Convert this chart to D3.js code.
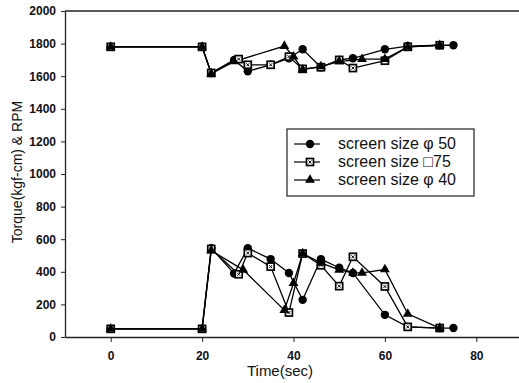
<!DOCTYPE html>
<html>
<head>
<meta charset="utf-8">
<script src="https://cdn.jsdelivr.net/npm/d3@7"></script>
<style>
  body { margin: 0; background: #fff; }
  svg { display: block; font-family: Arial, "Liberation Sans", sans-serif; }
  .c-axis text { font-size: 12px; font-weight: bold; fill: #111; }
  .c-axis path, .c-axis line { stroke: #222; }
</style>
</head>
<body>
<div id="chart"></div>
<script>
// time (sec) per series, torque/rpm values
const seriesNames = ['screen size \u03c6 50', 'screen size \u25a175', 'screen size \u03c6 40'];

const phi50TimeTop = [0, 20, 22, 27, 30, 35, 39, 42, 46, 50, 53, 60, 65, 72, 75];
const phi50RpmTop = [1780, 1780, 1620, 1700, 1630, 1670, 1710, 1765, 1655, 1700, 1710, 1765, 1785, 1790, 1790];
const sq75TimeTop = [0, 20, 22, 28, 30, 35, 39, 42, 46, 50, 53, 60, 65, 72];
const sq75RpmTop = [1780, 1780, 1620, 1705, 1670, 1670, 1720, 1645, 1655, 1700, 1650, 1695, 1780, 1790];
const phi40TimeTop = [0, 20, 22, 27, 38, 40, 42, 46, 50, 55, 60, 65, 72];
const phi40RpmTop = [1780, 1780, 1615, 1690, 1785, 1720, 1640, 1660, 1690, 1705, 1705, 1780, 1790];

const phi50TimeLow = [0, 20, 22, 27, 30, 35, 39, 42, 46, 50, 53, 60, 65, 72, 75];
const phi50TorqueLow = [50, 50, 545, 390, 545, 478, 393, 228, 478, 425, 393, 136, 62, 55, 55];
const sq75TimeLow = [0, 20, 22, 28, 30, 35, 39, 42, 46, 50, 53, 60, 65, 72];
const sq75TorqueLow = [50, 50, 540, 385, 515, 432, 150, 512, 440, 312, 492, 310, 62, 55];
const phi40TimeLow = [0, 20, 22, 29, 38, 40, 42, 46, 50, 53, 55, 60, 65, 72];
const phi40TorqueLow = [50, 50, 530, 412, 165, 330, 512, 455, 412, 393, 393, 414, 142, 55];

const xTicks = [0, 20, 40, 60, 80];
const yTicks = [0, 200, 400, 600, 800, 1000, 1200, 1400, 1600, 1800, 2000];

const zip = (xs, ys) => xs.map((x, i) => ({ x: x, y: ys[i] }));
const series = [
  { marker: 'circle', parts: [zip(phi50TimeTop, phi50RpmTop), zip(phi50TimeLow, phi50TorqueLow)] },
  { marker: 'square', parts: [zip(sq75TimeTop, sq75RpmTop), zip(sq75TimeLow, sq75TorqueLow)] },
  { marker: 'triangle', parts: [zip(phi40TimeTop, phi40RpmTop), zip(phi40TimeLow, phi40TorqueLow)] }
];

const chartWidth = 519;
const chartHeight = 383;
const plotLeft = 65;
const plotRight = 522;
const plotTop = 11;
const plotBottom = 337;

const svg = d3.select('#chart').append('svg')
  .attr('width', chartWidth)
  .attr('height', chartHeight);

const x = d3.scaleLinear().domain([-10, 90]).range([plotLeft, plotRight]);
const y = d3.scaleLinear().domain([0, 2000]).range([plotBottom, plotTop]);

// frame top line
svg.append('line')
  .attr('x1', plotLeft).attr('x2', plotRight)
  .attr('y1', plotTop).attr('y2', plotTop)
  .attr('stroke', '#222').attr('stroke-width', 1.3);

svg.append('g')
  .attr('class', 'c-axis')
  .attr('transform', 'translate(0,' + plotBottom + ')')
  .call(d3.axisBottom(x).tickValues(xTicks).tickSize(5).tickPadding(9).tickSizeOuter(0))
  .call((g) => g.select('.domain').attr('stroke-width', 1.3));

svg.append('g')
  .attr('class', 'c-axis')
  .attr('transform', 'translate(' + plotLeft + ',0)')
  .call(d3.axisLeft(y).tickValues(yTicks).tickFormat(d3.format('d')).tickSize(4).tickPadding(5).tickSizeOuter(0))
  .call((g) => g.select('.domain').attr('stroke-width', 1.3));

svg.append('text')
  .attr('x', 280).attr('y', 376)
  .attr('text-anchor', 'middle')
  .attr('font-size', 15).attr('fill', '#111')
  .text('Time(sec)');

svg.append('text')
  .attr('transform', 'translate(22,172) rotate(-90)')
  .attr('text-anchor', 'middle')
  .attr('font-size', 14).attr('fill', '#111')
  .text('Torque(kgf-cm) & RPM');

const line = d3.line().x((d) => x(d.x)).y((d) => y(d.y));

function drawMarker (g, type, cx, cy) {
  if (type === 'circle') {
    g.append('circle').attr('cx', cx).attr('cy', cy).attr('r', 4.2).attr('fill', '#000');
  } else if (type === 'square') {
    g.append('rect').attr('x', cx - 3.5).attr('y', cy - 3.5).attr('width', 7).attr('height', 7)
      .attr('fill', '#fff').attr('stroke', '#000').attr('stroke-width', 1.7);
    g.append('path').attr('d', 'M' + (cx - 1.5) + ',' + (cy - 1.5) + 'L' + (cx + 1.5) + ',' + (cy + 1.5) +
      'M' + (cx + 1.5) + ',' + (cy - 1.5) + 'L' + (cx - 1.5) + ',' + (cy + 1.5))
      .attr('stroke', '#000').attr('stroke-width', 1);
  } else {
    g.append('path').attr('d', d3.symbol(d3.symbolTriangle, 42)())
      .attr('transform', 'translate(' + cx + ',' + cy + ')').attr('fill', '#000');
  }
}

const plot = svg.append('g').attr('class', 'c-points');

series.forEach((s) => {
  s.parts.forEach((pts) => {
    plot.append('path')
      .attr('d', line(pts))
      .attr('fill', 'none')
      .attr('stroke', '#000')
      .attr('stroke-width', 1.3);
  });
});

series.forEach((s) => {
  s.parts.forEach((pts) => {
    pts.forEach((d) => drawMarker(plot, s.marker, x(d.x), y(d.y)));
  });
});

// legend
const legend = svg.append('g').attr('transform', 'translate(287,129)');
legend.append('rect')
  .attr('width', 187).attr('height', 67)
  .attr('fill', '#fff').attr('stroke', '#222').attr('stroke-width', 1.2);

series.forEach((s, i) => {
  const ly = 15 + i * 18;
  legend.append('line')
    .attr('x1', 7).attr('x2', 33).attr('y1', ly).attr('y2', ly)
    .attr('stroke', '#000').attr('stroke-width', 1.2);
  drawMarker(legend, s.marker, 23, ly);
  legend.append('text')
    .attr('x', 51).attr('y', ly + 5)
    .attr('font-size', 16).attr('fill', '#111')
    .text(seriesNames[i]);
});
</script>
</body>
</html>
